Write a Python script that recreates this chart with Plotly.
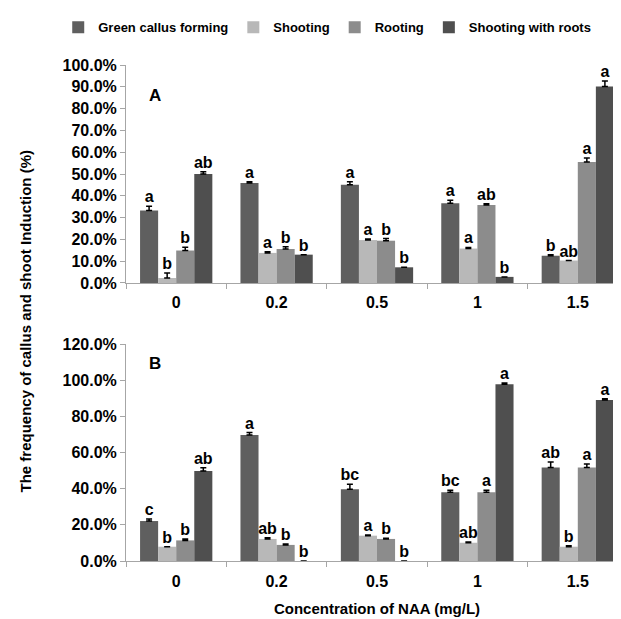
import plotly.graph_objects as go

categories = ["0", "0.2", "0.5", "1", "1.5"]
series_names = ["Green callus forming", "Shooting", "Rooting", "Shooting with roots"]
colors = ["#5f5f5f", "#b8b8b8", "#8c8c8c", "#4f4f4f"]

# Panel A values (%)
a_green = [33.2, 45.9, 45.1, 36.6, 12.5]
a_shoot = [2.3, 13.8, 19.7, 15.8, 10.3]
a_root = [14.9, 15.6, 19.4, 35.8, 55.5]
a_swr = [50.0, 13.0, 7.2, 2.8, 90.1]
a_err_green = [2.0, 0.6, 1.4, 1.4, 0.5]
a_err_shoot = [2.3, 0.5, 0.5, 0.5, 0.0]
a_err_root = [1.5, 1.0, 1.0, 0.5, 1.8]
a_err_swr = [1.0, 0.0, 0.0, 0.0, 2.6]
a_let_green = ["a", "a", "a", "a", "b"]
a_let_shoot = ["b", "a", "a", "a", "ab"]
a_let_root = ["b", "b", "b", "ab", "a"]
a_let_swr = ["ab", "b", "b", "b", "a"]

# Panel B values (%)
b_green = [22.1, 69.7, 39.7, 38.0, 51.7]
b_shoot = [7.9, 12.2, 14.0, 10.1, 7.9]
b_root = [11.4, 8.9, 12.2, 38.0, 51.7]
b_swr = [49.8, 0.0, 0.0, 97.8, 89.1]
b_err_green = [1.1, 1.3, 2.8, 1.1, 3.0]
b_err_shoot = [0.0, 0.7, 0.4, 0.4, 0.5]
b_err_root = [0.7, 0.5, 0.4, 1.1, 2.0]
b_err_swr = [1.7, 0.0, 0.0, 0.7, 0.6]
b_let_green = ["c", "a", "bc", "bc", "ab"]
b_let_shoot = ["b", "ab", "a", "ab", "b"]
b_let_root = ["b", "b", "b", "a", "a"]
b_let_swr = ["ab", "b", "b", "a", "a"]

FONT = "Arial, Liberation Sans, sans-serif"

panels = [
    ("x", "y", [a_green, a_shoot, a_root, a_swr],
     [a_err_green, a_err_shoot, a_err_root, a_err_swr],
     [a_let_green, a_let_shoot, a_let_root, a_let_swr], True),
    ("x2", "y2", [b_green, b_shoot, b_root, b_swr],
     [b_err_green, b_err_shoot, b_err_root, b_err_swr],
     [b_let_green, b_let_shoot, b_let_root, b_let_swr], False),
]

fig = go.Figure()
for xa, ya, vals, errs, lets, legend in panels:
    for i, name in enumerate(series_names):
        fig.add_trace(go.Bar(
            x=categories, y=vals[i], name=name, xaxis=xa, yaxis=ya,
            marker=dict(color=colors[i], line=dict(width=0)),
            offsetgroup=str(i), showlegend=legend, legendgroup=name,
            error_y=dict(type="data", array=errs[i], symmetric=False,
                         arrayminus=[0] * len(errs[i]),
                         color="#000000", thickness=1.5, width=3),
        ))
    for i, name in enumerate(series_names):
        fig.add_trace(go.Scatter(
            x=categories, y=[v + e for v, e in zip(vals[i], errs[i])],
            text=lets[i], mode="text", textposition="top center",
            textfont=dict(family=FONT, size=16, color="#000000", weight="bold"),
            xaxis=xa, yaxis=ya, offsetgroup=str(i), showlegend=False,
            hoverinfo="skip", cliponaxis=False,
        ))

axis_common = dict(
    showline=True, linecolor="#a6a6a6", linewidth=1, ticks="outside",
    tickcolor="#a6a6a6", ticklen=5, showgrid=False, zeroline=False,
    tickfont=dict(family=FONT, size=16, color="#000000", weight="bold"),
)

fig.update_layout(
    width=621, height=619,
    margin=dict(l=118, r=1, t=57, b=66, autoexpand=False),
    paper_bgcolor="white", plot_bgcolor="white",
    barmode="group", bargap=0.28, bargroupgap=0,
    scattermode="group", scattergap=0.28,
    font=dict(family=FONT, color="#000000"),
    xaxis=dict(domain=[0, 1], anchor="y", tickson="boundaries",
               ticklabelstandoff=5, **axis_common),
    yaxis=dict(domain=[0.5605, 1], anchor="x", range=[0, 100], dtick=10,
               tickformat=".1f", ticksuffix="%", **axis_common),
    xaxis2=dict(domain=[0, 1], anchor="y2", tickson="boundaries",
                ticklabelstandoff=6,
                title=dict(text="Concentration of NAA (mg/L)", standoff=14,
                           font=dict(family=FONT, size=15, color="#000000", weight="bold")),
                **axis_common),
    yaxis2=dict(domain=[0, 0.4375], anchor="x2", range=[0, 120], dtick=20,
                tickformat=".1f", ticksuffix="%", **axis_common),
    legend=dict(orientation="h", xref="paper", yref="paper",
                x=-0.135, y=1.076, yanchor="middle", xanchor="left",
                itemwidth=30, tracegroupgap=0,
                font=dict(family=FONT, size=13, color="#000000", weight="bold"),
                traceorder="normal"),
    showlegend=True,
    annotations=[
        dict(text="A", xref="paper", yref="paper", x=0.058, y=0.962,
             xanchor="center", showarrow=False,
             font=dict(family=FONT, size=17, weight="bold")),
        dict(text="B", xref="paper", yref="paper", x=0.058, y=0.399,
             xanchor="center", showarrow=False,
             font=dict(family=FONT, size=17, weight="bold")),
        dict(text="The frequency of callus and shoot Induction (%)",
             xref="paper", yref="paper", x=-0.2, y=0.484, textangle=-90,
             showarrow=False, xanchor="center", yanchor="middle",
             font=dict(family=FONT, size=15, weight="bold")),
    ],
)

fig.write_html("out.html")
